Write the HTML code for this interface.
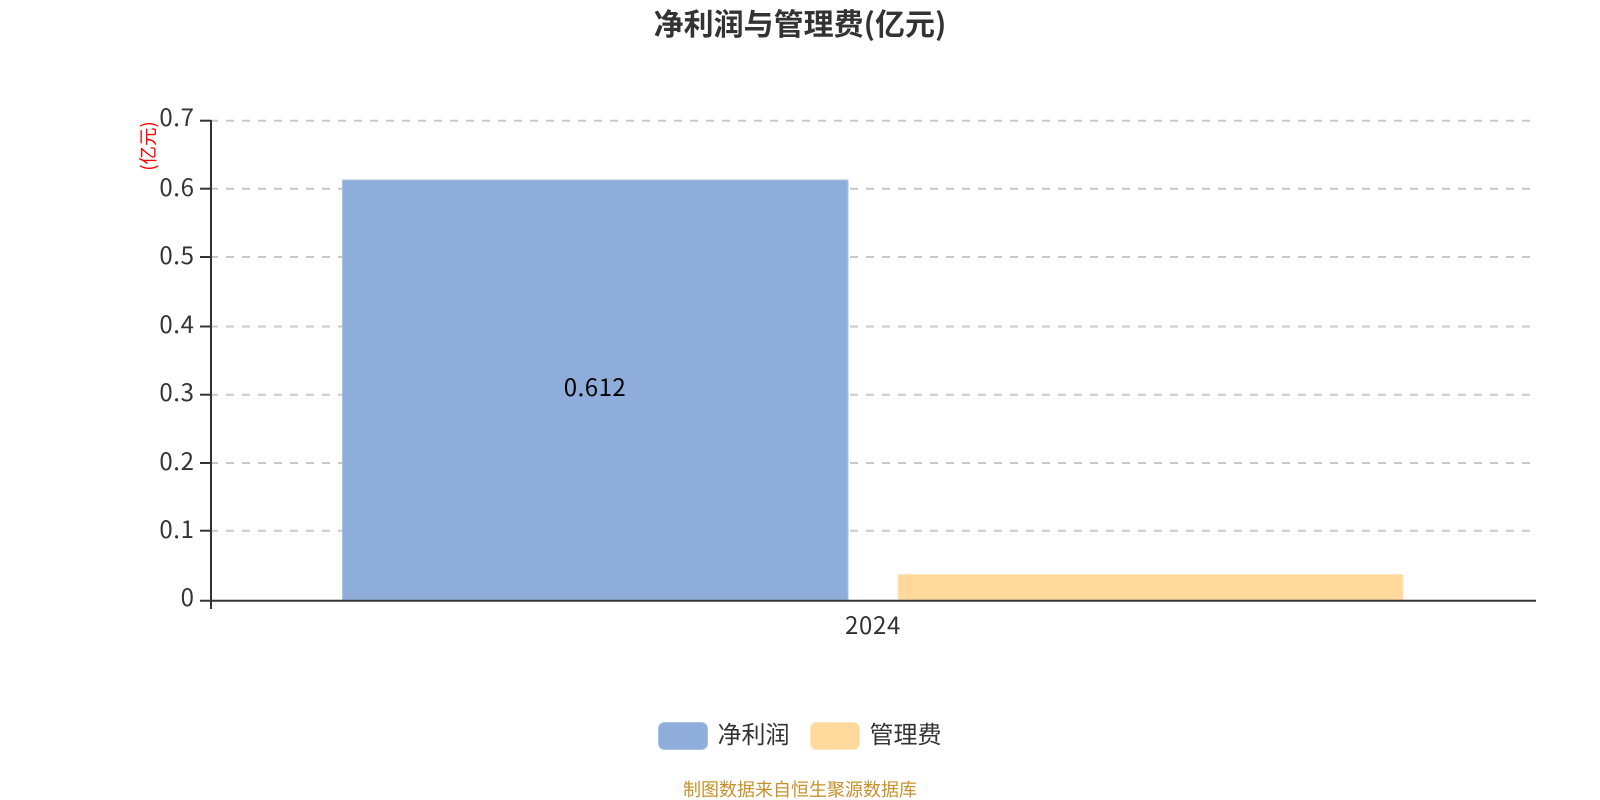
<!DOCTYPE html>
<html lang="zh">
<head>
<meta charset="utf-8">
<style>
html,body{margin:0;padding:0;background:#fff;width:1600px;height:800px;overflow:hidden}
svg{display:block}
text{font-family:"Noto Sans CJK SC","Liberation Sans",sans-serif}
</style>
</head>
<body>
<svg width="1600" height="800" viewBox="0 0 1600 800" xmlns="http://www.w3.org/2000/svg">
<text x="800" y="35" text-anchor="middle" font-size="30" font-weight="700" fill="#333">净利润与管理费(亿元)</text>

<g stroke="#c8c8c8" stroke-width="2" stroke-dasharray="8 8" fill="none">
<path d="M210 120.7H1530"/>
<path d="M210 188.7H1530"/>
<path d="M210 257H1530"/>
<path d="M210 326.5H1530"/>
<path d="M210 394.7H1530"/>
<path d="M210 463H1530"/>
<path d="M210 530.7H1530"/>
</g>

<rect x="342.5" y="180" width="505.500" height="420" fill="#8eaddb" stroke="#a9c1e4" stroke-width="1"/>
<rect x="898" y="574.500" width="505" height="25.500" fill="#ffd89b" stroke="#ffe6bd" stroke-width="1"/>

<g stroke="#333" stroke-width="2" fill="none">
<path d="M211 120V609"/>
<path d="M200 600.700H1536"/>
<path d="M200 120.700H211"/>
<path d="M200 188.700H211"/>
<path d="M200 257H211"/>
<path d="M200 326.500H211"/>
<path d="M200 394.700H211"/>
<path d="M200 463H211"/>
<path d="M200 530.700H211"/>
</g>

<g font-size="24" fill="#333" text-anchor="end" letter-spacing="0.6">
<text x="194.500" y="126">0.7</text>
<text x="194.500" y="196">0.6</text>
<text x="194.500" y="264">0.5</text>
<text x="194.500" y="333">0.4</text>
<text x="194.500" y="401">0.3</text>
<text x="194.500" y="470">0.2</text>
<text x="194.500" y="538">0.1</text>
<text x="194.500" y="606">0</text>
</g>

<text transform="translate(155,146) rotate(-90)" text-anchor="middle" font-size="18.500" fill="#f00">(亿元)</text>

<text x="595" y="396" text-anchor="middle" font-size="24" fill="#000" letter-spacing="0.5">0.612</text>
<text x="873" y="634" text-anchor="middle" font-size="24" fill="#333" letter-spacing="0.7">2024</text>

<rect x="658.500" y="722.500" width="49" height="27" rx="6" fill="#8eaddb" stroke="#a9c1e4"/>
<text x="717.500" y="743" font-size="24" fill="#333">净利润</text>
<rect x="810.500" y="722.500" width="49" height="27" rx="6" fill="#ffd89b" stroke="#ffe6bd"/>
<text x="869.500" y="743" font-size="24" fill="#333">管理费</text>

<text x="800" y="796" text-anchor="middle" font-size="18" fill="#c8912a">制图数据来自恒生聚源数据库</text>
</svg>
</body>
</html>
